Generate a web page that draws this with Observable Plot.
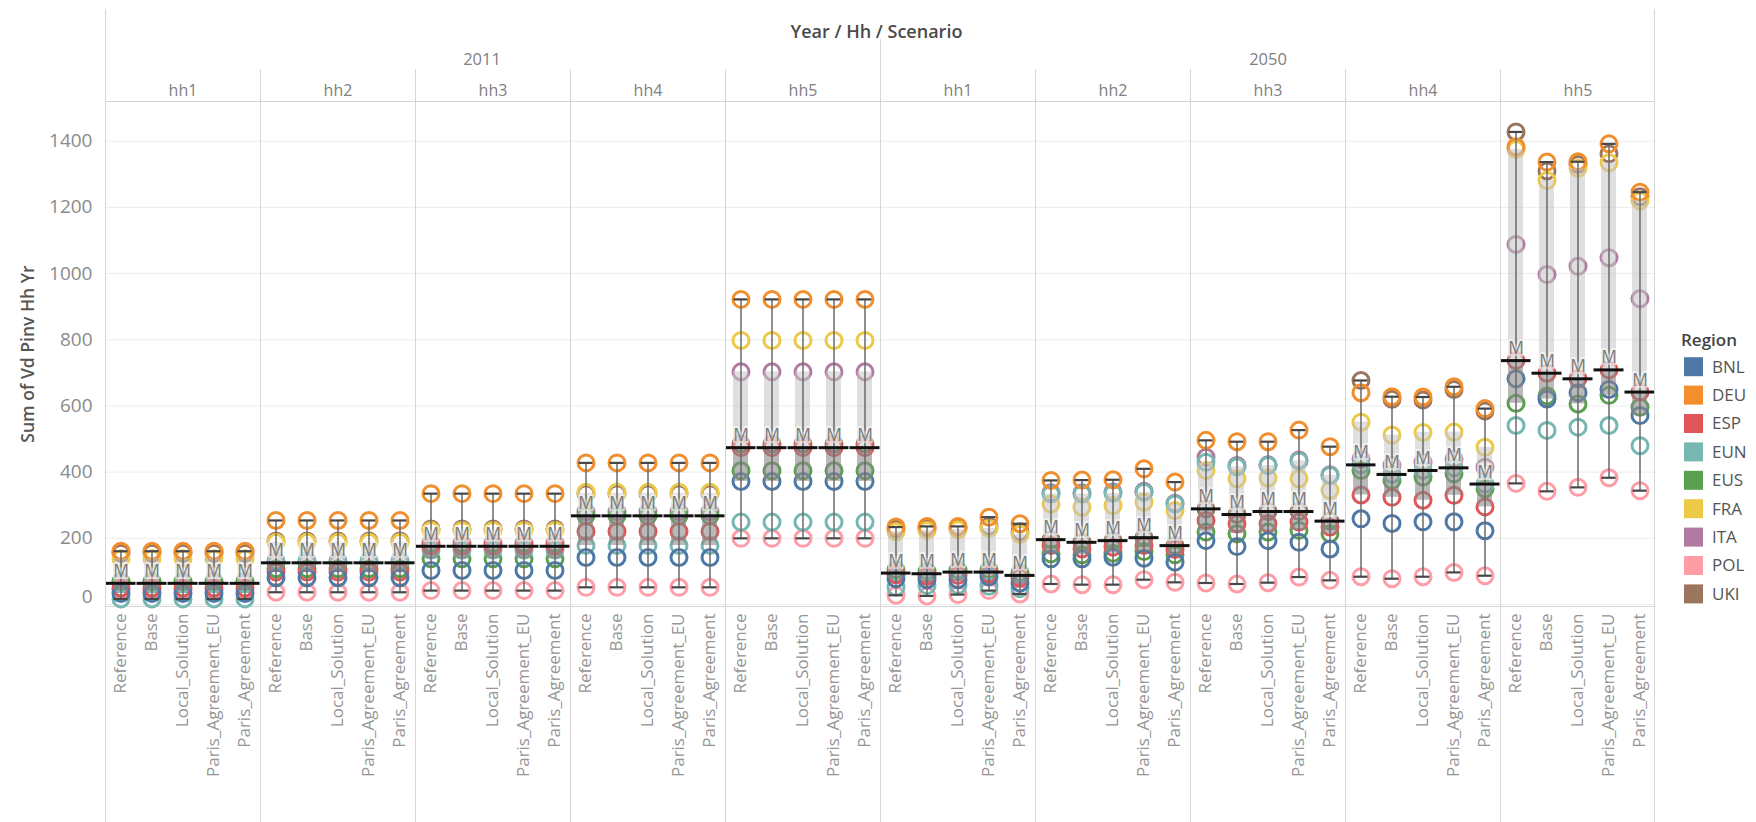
<!DOCTYPE html>
<html><head><meta charset="utf-8">
<script src="https://cdn.jsdelivr.net/npm/d3@7"></script>
<script src="https://cdn.jsdelivr.net/npm/@observablehq/plot@0.6"></script>
<style>
body{margin:0;background:#fff;}
#chart{position:relative;width:1756px;height:822px;}
</style></head><body><div id="chart"></div>
<script>
const regions = ["BNL","DEU","ESP","EUN","EUS","FRA","ITA","POL","UKI"];
const regionColors = ["#4e79a7","#f28e2b","#e15759","#76b7b2","#59a14f","#edc948","#b07aa1","#ff9da7","#9c755f"];
const years = ["2011","2050"];
const households = ["hh1","hh2","hh3","hh4","hh5"];
const scenarios = ["Reference","Base","Local_Solution","Paris_Agreement_EU","Paris_Agreement"];
const yTicks = [0,200,400,600,800,1000,1200,1400];

// 2011: identical for every scenario; order follows `regions`
const y2011_hh1 = [33,161,50,17,70,138,64,42,155];
const y2011_hh2 = [81,254,98,132,108,188,126,37,192];
const y2011_hh3 = [103,335,176,165,138,224,185,42,228];
const y2011_hh4 = [142,428,221,178,268,339,280,52,335];
const y2011_hh5 = [372,922,474,249,404,798,703,200,485];

// 2050: one row per scenario (Reference, Base, Local_Solution, Paris_Agreement_EU, Paris_Agreement)
const y2050_hh1 = [
  [78,234,90,52,105,220,95,28,228],
  [75,236,85,57,100,224,93,26,230],
  [75,236,88,58,104,226,98,30,231],
  [83,264,92,55,105,230,98,42,236],
  [65,244,80,48,96,212,88,32,220]];
const y2050_hh2 = [
  [138,375,178,334,153,304,338,62,196],
  [138,376,168,334,150,294,338,60,188],
  [143,377,173,336,155,299,340,60,193],
  [140,410,178,339,160,309,342,75,202],
  [128,370,166,304,150,284,306,67,178]];
const y2050_hh3 = [
  [193,496,254,430,219,405,445,65,289],
  [175,492,244,416,214,380,420,62,272],
  [193,492,244,420,219,382,422,66,281],
  [188,527,249,434,224,380,437,83,281],
  [168,477,234,390,214,345,392,73,252]];
const y2050_hh4 = [
  [259,640,331,422,405,551,440,84,677],
  [245,628,324,393,375,512,420,78,620],
  [250,627,315,405,385,520,430,84,618],
  [250,658,330,413,395,521,440,97,650],
  [223,592,295,364,350,475,415,87,585]];
const y2050_hh5 = [
  [682,1383,737,541,608,1375,1088,366,1428],
  [621,1337,699,526,630,1281,997,342,1310],
  [640,1338,682,536,606,1318,1022,354,1330],
  [650,1392,709,541,632,1335,1048,383,1362],
  [571,1246,642,480,596,1220,924,344,1232]];

const values2011 = [y2011_hh1,y2011_hh2,y2011_hh3,y2011_hh4,y2011_hh5];
const values2050 = [y2050_hh1,y2050_hh2,y2050_hh3,y2050_hh4,y2050_hh5];

const rows = [];
years.forEach((yr, yi) => households.forEach((hh, hi) => scenarios.forEach((sc, si) => {
  const vals = yi === 0 ? values2011[hi] : values2050[hi][si];
  regions.forEach((rg, ri) => rows.push({key: `${yr}|${hh}|${sc}`, year: yr, hh, scenario: sc, region: rg, value: vals[ri]}));
})));
const keys = [...new Set(rows.map(d => d.key))];
const stats = d3.groups(rows, d => d.key).map(([key, g]) => {
  const v = g.map(d => d.value).sort(d3.ascending);
  return {key, min: v[0], q1: d3.quantile(v, 0.25), median: d3.quantile(v, 0.5), q3: d3.quantile(v, 0.75), max: v[v.length - 1]};
});
const panelHeads = [];
years.forEach(yr => households.forEach(hh => panelHeads.push({key: `${yr}|${hh}|Local_Solution`, hh})));

const grey = "#8a8a8a";
const plot = Plot.plot({
  width: 1756, height: 822,
  marginLeft: 105, marginRight: 101, marginTop: 101, marginBottom: 216,
  style: {fontFamily: "'Open Sans', sans-serif", background: "white", overflow: "visible"},
  x: {domain: keys, padding: 0, axis: null},
  y: {domain: [-6, 1520], axis: null},
  color: {domain: regions, range: regionColors},
  marks: [
    Plot.gridY(yTicks, {stroke: "#ececec", strokeOpacity: 1}),
    Plot.ruleY([-6, 1520], {stroke: "#d4d4d4"}),
    Plot.dot(rows.slice().reverse(), {x: "key", y: "value", stroke: "region", r: 8, strokeWidth: 3, fill: "none"}),
    Plot.barY(stats, {x: "key", y1: "median", y2: "q3", fill: "#c4c4c4", fillOpacity: 0.55, insetLeft: 8, insetRight: 8}),
    Plot.barY(stats, {x: "key", y1: "q1", y2: "median", fill: "#8a8a8a", fillOpacity: 0.6, insetLeft: 8, insetRight: 8}),
    Plot.ruleX(stats, {x: "key", y1: "min", y2: "max", stroke: "#6a6a6a", strokeWidth: 1.5}),
    Plot.tickY(stats, {x: "key", y: "min", stroke: "#474747", strokeWidth: 2.2, insetLeft: 8.5, insetRight: 8.5}),
    Plot.tickY(stats, {x: "key", y: "max", stroke: "#474747", strokeWidth: 2.2, insetLeft: 8.5, insetRight: 8.5}),
    Plot.tickY(stats, {x: "key", y: "median", stroke: "#111", strokeWidth: 3, insetLeft: 0.5, insetRight: 0.5}),
    Plot.text(stats, {x: "key", y: "median", text: () => "M", dy: -12, fontSize: 17.5, fill: "#7c7c7c", stroke: "white", strokeOpacity: 0.5, strokeWidth: 4}),
    Plot.axisY(yTicks.slice(1), {tickSize: 0, tickPadding: 13, fontSize: 19, fill: grey, tickFormat: d3.format("d"), label: null}),
    Plot.axisY([0], {tickSize: 0, tickPadding: 13, fontSize: 19, fill: grey, dy: -8, tickFormat: d3.format("d"), label: null}),
    Plot.axisX({tickRotate: -90, tickSize: 0, tickPadding: 7, fontSize: 17, fill: "#959595", tickFormat: k => k.split("|")[2], label: null}),
    Plot.text(["Sum of Vd Pinv Hh Yr"], {frameAnchor: "left", textAnchor: "middle", dx: -77, rotate: -90, fontSize: 17.5, fontWeight: 600, fill: "#555"}),
    Plot.text(panelHeads, {x: "key", text: "hh", frameAnchor: "top", dy: -17, fontSize: 16, fill: "#808080"}),
    Plot.text(["2011"], {x: () => "2011|hh3|Local_Solution", frameAnchor: "top", dy: -48, dx: -11, fontSize: 16.5, fill: "#808080"}),
    Plot.text(["2050"], {x: () => "2050|hh3|Local_Solution", frameAnchor: "top", dy: -48, fontSize: 16.5, fill: "#808080"}),
    Plot.text(["Year / Hh / Scenario"], {x: () => "2050|hh1|Reference", frameAnchor: "top", dy: -76, dx: -19.5, fontSize: 18, fontWeight: 600, fill: "#4a4a4a"})
  ]
});
document.getElementById("chart").appendChild(plot);

// panel dividers and legend
const svg = d3.select(plot);
const xs = plot.scale("x");
const bw = xs.bandwidth;
const lines = svg.append("g").attr("stroke", "#d6d6d6").attr("stroke-width", 1);
years.forEach((yr, yi) => households.forEach((hh, hi) => {
  const x0 = Math.round(xs.apply(`${yr}|${hh}|Reference`)) + 0.5;
  const top = (yi === 0 && hi === 0) ? 9 : hi === 0 ? 39 : 69;
  lines.append("line").attr("x1", x0).attr("x2", x0).attr("y1", top).attr("y2", 822);
}));
const xEnd = Math.round(xs.apply(keys[keys.length - 1]) + bw) - 0.5;
lines.append("line").attr("x1", xEnd).attr("x2", xEnd).attr("y1", 9).attr("y2", 822);

const color = plot.scale("color");
const lg = svg.append("g").attr("font-family", "'Open Sans', sans-serif").attr("text-anchor", "start");
lg.append("text").attr("x", 1681).attr("y", 340).attr("dy", "0.35em").attr("font-size", 17).attr("font-weight", 600).attr("fill", "#444").text("Region");
color.domain.forEach((r, i) => {
  const cy = 366.7 + i * 28.4;
  lg.append("rect").attr("x", 1684).attr("y", cy - 9.5).attr("width", 19).attr("height", 19).attr("fill", color.apply(r));
  lg.append("text").attr("x", 1712).attr("y", cy).attr("dy", "0.35em").attr("font-size", 17).attr("fill", "#555").text(r);
});
</script></body></html>
